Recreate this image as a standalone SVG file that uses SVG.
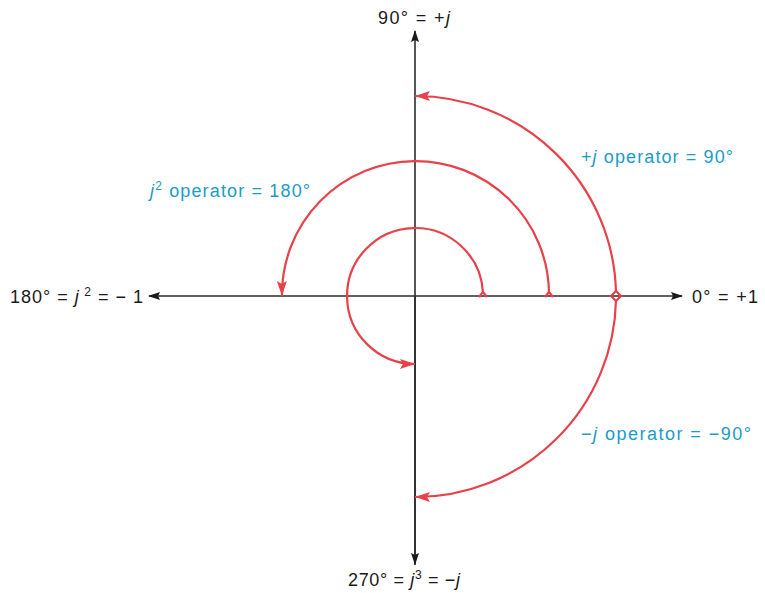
<svg xmlns="http://www.w3.org/2000/svg" width="765" height="593" viewBox="0 0 765 593">
<style>
.ax{stroke:#2b2b2b;stroke-width:1.6;fill:none}
.arc{stroke:#e8414a;stroke-width:2.2;fill:none}
.t{font-family:"Liberation Sans",Arial,sans-serif;font-size:18px;fill:#1a1a1a}
.b{font-family:"Liberation Sans",Arial,sans-serif;font-size:18px;fill:#1b9cc8}
.i{font-style:italic}
.sup{font-size:12px}
</style>
<defs>
<marker id="ka" markerWidth="12" markerHeight="10" refX="11" refY="4" orient="auto" markerUnits="userSpaceOnUse">
<path d="M0,0 L12,4 L0,8 L2,4 z" fill="#1a1a1a"/>
</marker>
<marker id="ra" markerWidth="16" markerHeight="12" refX="15" refY="5" orient="auto" markerUnits="userSpaceOnUse">
<path d="M0,0 L15,5 L0,10 L3,5 z" fill="#e8414a"/>
</marker>
</defs>
<g id="axes">
<line class="ax" x1="415" y1="565" x2="415" y2="31" marker-end="url(#ka)"/>
<line class="ax" x1="415" y1="296" x2="415" y2="564" marker-end="url(#ka)"/>
<line class="ax" x1="415" y1="296" x2="149" y2="296" marker-end="url(#ka)"/>
<line class="ax" x1="415" y1="296" x2="682" y2="296" marker-end="url(#ka)"/>
</g>
<g id="connectors">
<path class="arc" d="M483,293 A68,68 0 1 0 415,364" marker-end="url(#ra)"/>
<path class="arc" d="M549,293 A133,133 0 0 0 282,296" marker-end="url(#ra)"/>
<path class="arc" d="M616,292 A201,201 0 0 0 415,96" marker-end="url(#ra)"/>
<path class="arc" d="M616,300 A201,201 0 0 1 415,497" marker-end="url(#ra)"/>
<path class="arc" stroke-width="1.5" d="M479,297 L483,292 L487,297"/>
<path class="arc" stroke-width="1.5" d="M545,297 L549,292 L553,297"/>
<path class="arc" stroke-width="1.5" fill="#fff" d="M616,291 L621,296 L616,301 L611,296 z"/>
</g>
<g id="label-90">
<text class="t" x="378" y="24" textLength="72" lengthAdjust="spacing">90° = +<tspan class="i">j</tspan></text>
</g>
<g id="label-0">
<text class="t" x="692" y="303" textLength="66" lengthAdjust="spacing">0° = +1</text>
</g>
<g id="label-180">
<text class="t" x="10" y="303" textLength="133" lengthAdjust="spacing">180° = <tspan class="i">j</tspan><tspan class="sup" dy="-7"> 2</tspan><tspan dy="7"> = − 1</tspan></text>
</g>
<g id="label-270">
<text class="t" x="348" y="586" textLength="112" lengthAdjust="spacing">270° = <tspan class="i">j</tspan><tspan class="sup" dy="-7">3</tspan><tspan dy="7"> = −<tspan class="i">j</tspan></tspan></text>
</g>
<g id="label-plusj">
<text class="b" x="581" y="163" textLength="152" lengthAdjust="spacing">+<tspan class="i">j</tspan>  operator = 90°</text>
</g>
<g id="label-j2">
<text class="b" x="150" y="197" textLength="160" lengthAdjust="spacing"><tspan class="i">j</tspan><tspan class="sup" dy="-7">2</tspan><tspan dy="7"> operator = 180°</tspan></text>
</g>
<g id="label-minusj">
<text class="b" x="581" y="440" textLength="170" lengthAdjust="spacing">−<tspan class="i">j</tspan>  operator = −90°</text>
</g>
</svg>
